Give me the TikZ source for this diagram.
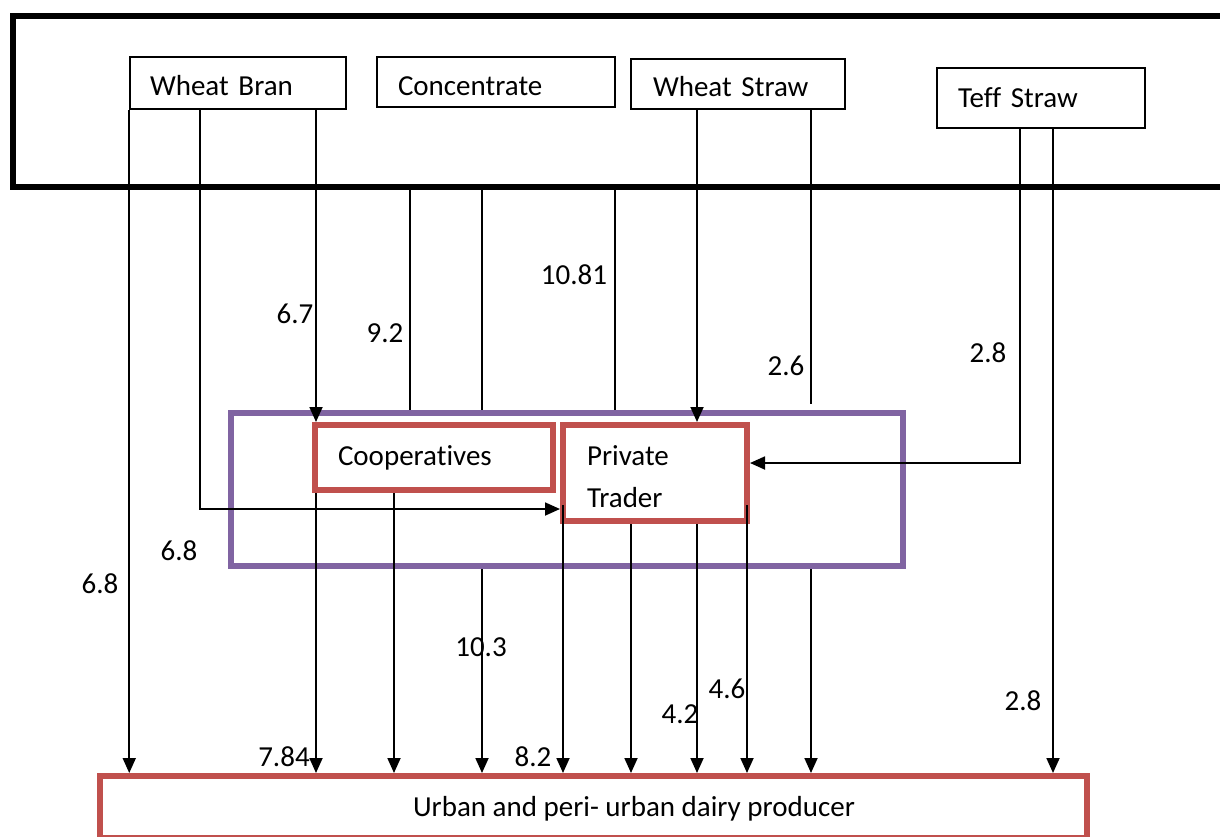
\documentclass[tikz,border=0pt]{standalone}
\usepackage{fontspec}
\setmainfont{Carlito}[Ligatures=NoCommon]
\usetikzlibrary{arrows.meta}
\definecolor{boxpurple}{HTML}{8064A2}
\definecolor{boxred}{HTML}{C0504D}
% set text lower without changing the size the node sees
\newcommand\lowertext[2]{\raisebox{-#1}[\height][\depth]{#2}}
\begin{document}
\begin{tikzpicture}[x=1pt,y=-1pt,
  every node/.style={font=\fontsize{29}{42}\selectfont},
  feedbox/.style={draw, line width=1.5pt, inner ysep=0pt, align=left},
  actorbox/.style={draw=boxred, line width=6pt, inner ysep=0pt, align=left},
  flow/.style={line width=1.8pt, -{Triangle[length=15pt,width=13pt]}},
  plainline/.style={line width=1.8pt}]
\useasboundingbox (0,0) rectangle (1220,836);

% frame round the feed sources
\node (feeds) [draw, line width=6pt, minimum width=1222pt, minimum height=171pt, inner sep=0pt] at (624,101.5) {};

% feed sources
\node (wb) [feedbox, text width=176pt, inner xsep=20pt, minimum height=52pt] at (238,83) {\lowertext{3pt}{Wheat Bran}};
\node (cc) [feedbox, text width=196pt, inner xsep=21pt, minimum height=50pt] at (496,82) {\lowertext{4pt}{Concentrate}};
\node (ws) [feedbox, text width=170pt, inner xsep=22pt, minimum height=50pt] at (738,84) {\lowertext{3pt}{Wheat Straw}};
\node (ts) [feedbox, text width=166pt, inner xsep=21pt, minimum height=60pt] at (1041,98) {Teff Straw};

% intermediaries
\node (hub) [draw=boxpurple, line width=6pt, minimum width=672pt, minimum height=153pt, inner sep=0pt] at (567,489.5) {};
\node (coop) [actorbox, text width=192pt, inner xsep=23pt, minimum height=65pt] at (434,457.5) {Cooperatives};
\node (pt) [actorbox, text width=136pt, inner xsep=24pt, minimum height=96pt] at (655,473) {\lowertext{3.5pt}{Private}\\\lowertext{3.5pt}{Trader}};

% end users
\node (prod) [draw=boxred, line width=6pt, minimum width=987pt, minimum height=62pt, inner sep=0pt] at (593.5,807) {\hspace*{81pt}\lowertext{2pt}{Urban and peri- urban dairy producer}};

% column and row positions of the connectors
\foreach \cx in {200,316,394,410,482,563,615,631,697,747,811,1020,1053}
  \coordinate (c\cx) at (\cx,0);
\coordinate (r404) at (0,404);
\coordinate (r463) at (0,463);
\coordinate (r505) at (0,505);
\coordinate (r509) at (0,509);

% wheat bran
\draw[flow] (wb.south west) -- (wb.south west |- prod.north);
\draw[flow] (wb.south -| c200) -- (c200 |- r509) -- (pt.west |- r509);
\draw[flow] (wb.south -| c316) -- (coop.north -| c316);

% concentrate
\draw[plainline] (feeds.south -| c410) -- (hub.north -| c410);
\draw[plainline] (feeds.south -| c482) -- (hub.north -| c482);
\draw[plainline] (feeds.south -| c615) -- (hub.north -| c615);

% wheat straw
\draw[flow] (ws.south -| c697) -- (pt.north -| c697);
\draw[plainline] (ws.south -| c811) -- (c811 |- r404);

% teff straw
\draw[flow] (ts.south -| c1020) -- (c1020 |- r463) -- (pt.east |- r463);
\draw[flow] (ts.south -| c1053) -- (prod.north -| c1053);

% from the intermediaries to the producers
\draw[flow] (coop.south -| c316) -- (prod.north -| c316);
\draw[flow] (coop.south -| c394) -- (prod.north -| c394);
\draw[flow] (hub.south -| c482) -- (prod.north -| c482);
\draw[flow] (c563 |- r505) -- (prod.north -| c563);
\draw[flow] (pt.south -| c631) -- (prod.north -| c631);
\draw[flow] (pt.south -| c697) -- (prod.north -| c697);
\draw[flow] (c747 |- r505) -- (prod.north -| c747);
\draw[flow] (hub.south -| c811) -- (prod.north -| c811);

% quantities
\node (q1) at (295,314) {6.7};
\node (q2) at (385,333) {9.2};
\node (q3) at (574,275) {10.81};
\node (q4) at (786,366) {2.6};
\node (q5) at (988,353) {2.8};
\node (q6) at (100,584) {6.8};
\node (q7) at (179,551) {6.8};
\node (q8) at (481,647) {10.3};
\node (q9) at (284,757) {7.84};
\node (q10) at (533,757) {8.2};
\node (q11) at (680,714) {4.2};
\node (q12) at (727,689) {4.6};
\node (q13) at (1023,701) {2.8};
\end{tikzpicture}
\end{document}
